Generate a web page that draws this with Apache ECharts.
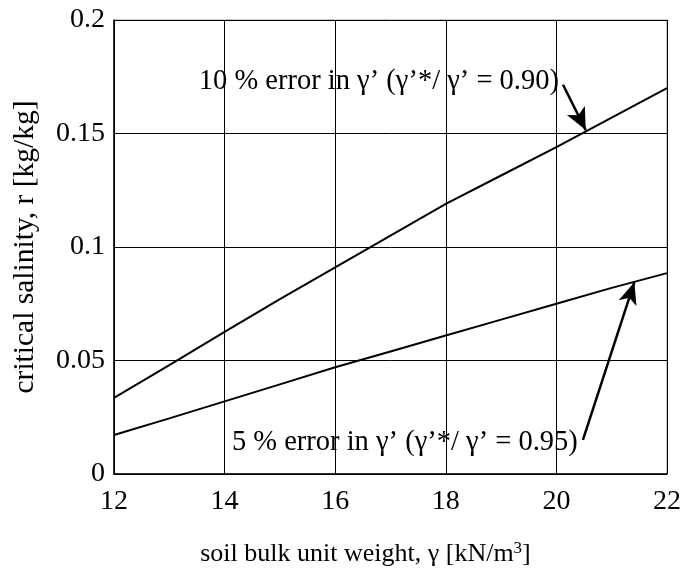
<!DOCTYPE html>
<html><head><meta charset="utf-8">
<script src="https://cdn.jsdelivr.net/npm/echarts@6/dist/echarts.min.js"></script>
<style>html,body{margin:0;padding:0;background:#fff}#c{width:680px;height:577px}</style>
</head><body><div id="c"></div>
<script>
const xValues = [12, 13, 14, 15, 16, 17, 18, 19, 20, 21, 22];
const err10 = [0.0335, 0.048, 0.0626, 0.077, 0.091, 0.105, 0.119, 0.1315, 0.144, 0.157, 0.170];
const err5 = [0.0172, 0.0245, 0.032, 0.0395, 0.047, 0.054, 0.061, 0.068, 0.075, 0.082, 0.0885];
const label10 = "10 % error in γ’ (γ’*/ γ’ = 0.90)";
const label5 = "5 % error in γ’ (γ’*/ γ’ = 0.95)";
const label10Pos = [16.79, 0.1727];
const label5Pos = [17.26, 0.0137];
const arrow10 = [[20.12, 0.1715], [20.53, 0.1515]];
const arrow5 = [[20.48, 0.0150], [21.41, 0.0845]];

const font = "'Liberation Serif', 'Times New Roman', serif";
const chart = echarts.init(document.getElementById('c'));
chart.setOption({
  animation: false,
  backgroundColor: '#fff',
  textStyle: { fontFamily: font },
  grid: { left: 114, right: 13, top: 20, bottom: 103, containLabel: false, outerBoundsMode: 'none',
    show: true, borderColor: '#999', borderWidth: 1 },
  xAxis: {
    type: 'value', min: 12, max: 22, interval: 2,
    name: 'soil bulk unit weight, γ [kN/m{sup|3}]',
    nameLocation: 'middle', nameGap: 66,
    nameTextStyle: { fontFamily: font, fontSize: 26, color: '#000', padding: [0, 50, 0, 0],
      rich: { sup: { fontFamily: font, fontSize: 17, color: '#000', verticalAlign: 'top', padding: [0, 0, 12, 0] } } },
    axisLine: { show: true, lineStyle: { color: '#000', width: 1.5 } },
    axisTick: { show: false },
    axisLabel: { fontFamily: font, fontSize: 28, color: '#000', margin: 14 },
    splitLine: { show: true, lineStyle: { color: '#000', width: 1 } }
  },
  yAxis: {
    type: 'value', min: 0, max: 0.2, interval: 0.05,
    name: 'critical salinity, r [kg/kg]',
    nameLocation: 'middle', nameGap: 74,
    nameTextStyle: { fontFamily: font, fontSize: 29.5, color: '#000' },
    axisLine: { show: true, lineStyle: { color: '#000', width: 1.5 } },
    axisTick: { show: false },
    axisLabel: { fontFamily: font, fontSize: 28, color: '#000', margin: 9 },
    splitLine: { show: true, lineStyle: { color: '#000', width: 1 } }
  },
  series: [
    {
      type: 'line', data: xValues.map((x, i) => [x, err10[i]]),
      showSymbol: false, lineStyle: { color: '#000', width: 2 },
      markLine: {
        silent: true, symbol: ['none', 'arrow'], symbolSize: [15, 22],
        lineStyle: { color: '#000', width: 2.5, type: 'solid' }, label: { show: false },
        data: [[{ coord: arrow10[0] }, { coord: arrow10[1] }]]
      },
      markPoint: {
        silent: true, symbol: 'circle', symbolSize: 0,
        label: { show: true, position: 'inside', formatter: label10, fontFamily: font, fontSize: 28.5, color: '#000' },
        data: [{ coord: label10Pos }]
      }
    },
    {
      type: 'line', data: xValues.map((x, i) => [x, err5[i]]),
      showSymbol: false, lineStyle: { color: '#000', width: 2 },
      markLine: {
        silent: true, symbol: ['none', 'arrow'], symbolSize: [14, 22],
        lineStyle: { color: '#000', width: 2.5, type: 'solid' }, label: { show: false },
        data: [[{ coord: arrow5[0] }, { coord: arrow5[1] }]]
      },
      markPoint: {
        silent: true, symbol: 'circle', symbolSize: 0,
        label: { show: true, position: 'inside', formatter: label5, fontFamily: font, fontSize: 28.5, color: '#000' },
        data: [{ coord: label5Pos }]
      }
    }
  ]
});
</script></body></html>
